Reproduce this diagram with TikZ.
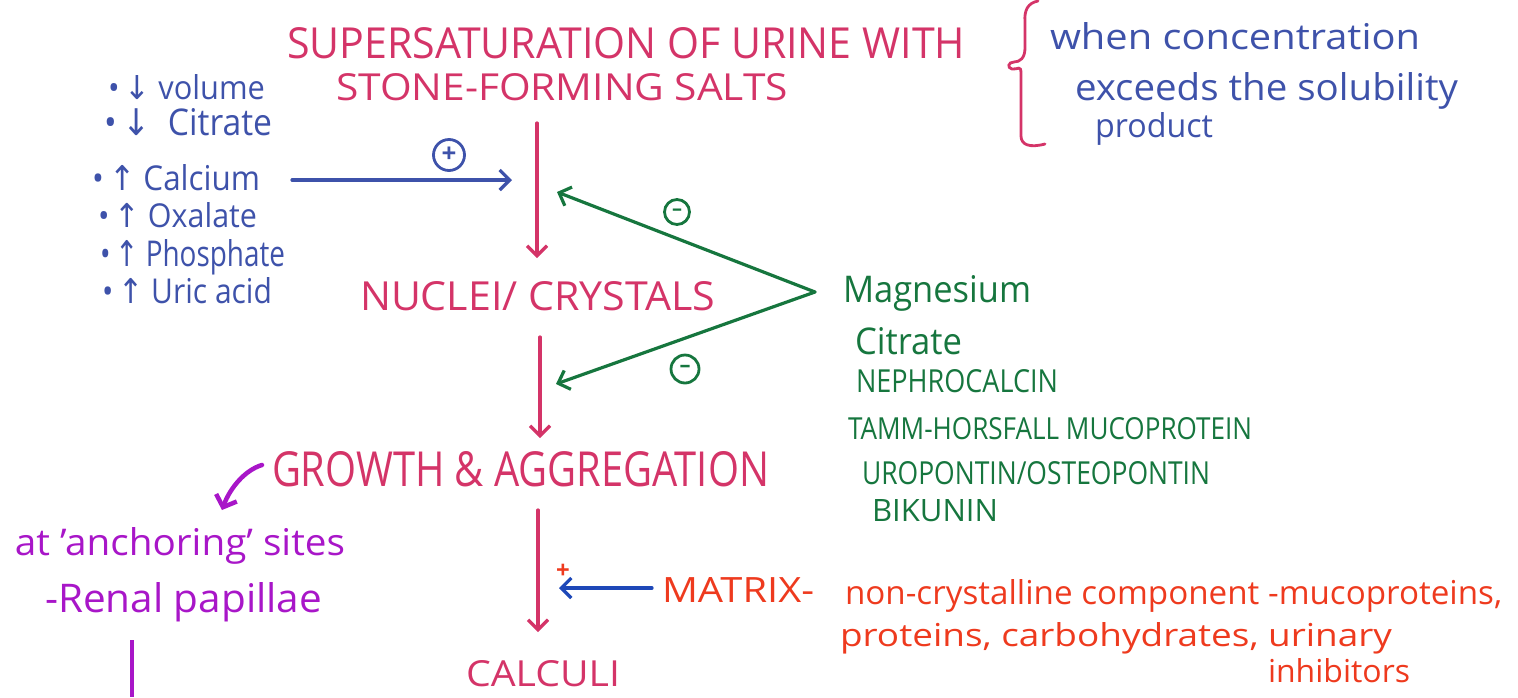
\documentclass[tikz,border=0pt]{standalone}
\usepackage{fontspec}
\setmainfont{Open Sans}
\newfontfamily\symfont{DejaVu Sans}
\usetikzlibrary{arrows.meta}
\definecolor{rose}{RGB}{212,52,104}
\definecolor{ink}{RGB}{62,82,170}
\definecolor{leaf}{RGB}{22,118,62}
\definecolor{violet}{RGB}{168,22,200}
\definecolor{flame}{RGB}{238,58,30}
\definecolor{navy}{RGB}{30,72,184}
% fit a text to a given width and height above the baseline
\newcommand\fitwh[3]{\resizebox{#1pt}{#2pt}{#3}}
\newcommand\dn{{\symfont ↓}}
\newcommand\up{{\symfont ↑}}
\tikzset{
  lbl/.style={anchor=base west, inner sep=0pt, outer sep=0pt},
  pen/.style={line width=3.2pt, line cap=round, line join=round},
  barb/.style={-{Straight Barb[length=10pt,width=20pt,line width=3.2pt]}},
  sign/.style={circle, draw, line width=2.8pt, inner sep=0pt, font=\bfseries}
}
\begin{document}
\begin{tikzpicture}[x=1pt,y=-1pt]
\useasboundingbox (0,0) rectangle (1518,697);

% ---------- title ----------
\node[lbl, text=rose] (t1) at (287,58) {\fitwh{678}{31}{SUPERSATURATION OF URINE WITH}};
\node[lbl, text=rose] (t2) at (336,100) {\fitwh{452}{27}{STONE-FORMING SALTS}};

% brace and definition
\draw[rose, line width=2.8pt, line cap=round]
  (1038,1) .. controls (1028,3) and (1024,10) .. (1025,22)
  -- (1025,48) .. controls (1025,58) and (1020,62) .. (1014,62)
  .. controls (1008,62) and (1007,68) .. (1012,69)
  .. controls (1018,70) and (1021,64) .. (1021,74)
  -- (1021,136) .. controls (1021,145) and (1030,148) .. (1045,144);
\node[lbl, text=ink] (d1) at (1050,49) {\fitwh{370}{27}{when concentration}};
\node[lbl, text=ink] (d2) at (1075,100) {\fitwh{383}{28}{exceeds the solubility}};
\node[lbl, text=ink] (d3) at (1095,137) {\fitwh{118}{25}{product}};

% ---------- promoters ----------
\node[lbl, text=ink] (p1) at (108,99) {\fitwh{157}{25}{•\,\dn\ volume}};
\node[lbl, text=ink] (p2) at (104,135) {\fitwh{168}{27}{•\,\dn\ \ Citrate}};
\node[lbl, text=ink] (p3) at (92,190) {\fitwh{168}{26}{•\,\up\ Calcium}};
\node[lbl, text=ink] (p4) at (98,227) {\fitwh{159}{25}{•\,\up\ Oxalate}};
\node[lbl, text=ink] (p5) at (100,266) {\fitwh{185}{27}{•\,\up\ Phosphate}};
\node[lbl, text=ink] (p6) at (102,303) {\fitwh{170}{26}{•\,\up\ Uric acid}};

\coordinate (pa) at (292,180);
\coordinate (pb) at (512,180);
\draw[pen, ink, barb] (pa) -- (pb);
\node[sign, ink, minimum size=31pt, font=\bfseries\fontsize{26}{26}\selectfont] (plus) at (449,155) {+};

% ---------- main sequence ----------
\coordinate (a1) at (537,123);
\coordinate (a1e) at (537,258);
\draw[pen, rose, barb] (a1) -- (a1e);

\node[lbl, text=rose] (nuc) at (360,310) {\fitwh{355}{29}{NUCLEI/ CRYSTALS}};

\coordinate (a2) at (540,337);
\coordinate (a2e) at (540,438);
\draw[pen, rose, barb] (a2) -- (a2e);

\node[lbl, text=rose] (grow) at (272,486) {\fitwh{497}{35}{GROWTH \& AGGREGATION}};

\coordinate (a3) at (538,510);
\coordinate (a3e) at (538,632);
\draw[pen, rose, barb] (a3) -- (a3e);

\node[lbl, text=rose] (calc) at (466,686) {\fitwh{154}{26}{CALCULI}};

% ---------- inhibitors ----------
\coordinate (apex) at (815,292);
\coordinate (ia) at (557,192);
\coordinate (ib) at (556,384);
\draw[pen, leaf, barb] (apex) -- (ia);
\draw[pen, leaf, barb] (apex) -- (ib);
\node[sign, leaf, minimum size=25pt, font=\bfseries\fontsize{20}{20}\selectfont] (m1) at (677,212) {–};
\node[sign, leaf, minimum size=28pt, font=\bfseries\fontsize{22}{22}\selectfont] (m2) at (685,369) {–};

\node[lbl, text=leaf] (g1) at (843,302) {\fitwh{188}{27}{Magnesium}};
\node[lbl, text=leaf] (g2) at (855,354) {\fitwh{107}{27}{Citrate}};
\node[lbl, text=leaf] (g3) at (856,392) {\fitwh{202}{23}{NEPHROCALCIN}};
\node[lbl, text=leaf] (g4) at (848,439) {\fitwh{404}{22}{TAMM-HORSFALL MUCOPROTEIN}};
\node[lbl, text=leaf] (g5) at (862,484) {\fitwh{348}{23}{UROPONTIN/OSTEOPONTIN}};
\node[lbl, text=leaf] (g6) at (872,521) {\fitwh{126}{22}{BIKUNIN}};

% ---------- anchoring sites ----------
\coordinate (va) at (262,465);
\coordinate (vb) at (222,510);
\draw[violet, line width=4.5pt, line cap=round, line join=round,
      -{Straight Barb[length=10pt,width=22pt,line width=4.5pt]}]
  (va) .. controls (245,470) and (230,488) .. (vb);
\node[lbl, text=violet] (s1) at (15,555) {\fitwh{330}{28}{at 'anchoring' sites}};
\node[lbl, text=violet] (s2) at (45,612) {\fitwh{277}{30}{-Renal papillae}};
\coordinate (vl1) at (132,640);
\coordinate (vl2) at (132,697);
\draw[violet, line width=3.6pt] (vl1) -- (vl2);

% ---------- matrix ----------
\node[lbl, text=flame] (mx) at (662,602) {\fitwh{152}{25}{MATRIX-}};
\coordinate (mxa) at (652,588);
\coordinate (mxb) at (559,588);
\draw[pen, navy, barb] (mxa) -- (mxb);
\node[text=flame, font=\bfseries\fontsize{24}{24}\selectfont, inner sep=0pt] (mplus) at (563,571) {+};
\node[lbl, text=flame] (r1) at (845,604) {\fitwh{657}{25}{non-crystalline component -mucoproteins,}};
\node[lbl, text=flame] (r2) at (840,646) {\fitwh{552}{24}{proteins, carbohydrates, urinary}};
\node[lbl, text=flame] (r3) at (1268,682) {\fitwh{142}{24}{inhibitors}};
\end{tikzpicture}
\end{document}
